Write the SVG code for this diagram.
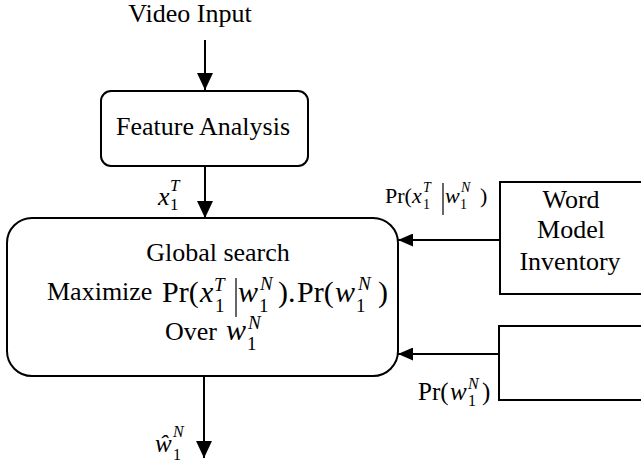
<svg xmlns="http://www.w3.org/2000/svg" width="641" height="462" viewBox="0 0 641 462" font-family="'Liberation Serif', 'Times New Roman', serif" font-size="26">
  <style>
    .box { fill: #fff; stroke: #000; stroke-width: 2; }
    .wire { fill: none; stroke: #000; stroke-width: 2; }
    .t { font-family: "Liberation Serif", "Times New Roman", serif; font-size: 26px; fill: #000; }
    .c { text-anchor: middle; }
    .i { font-style: italic; }
    .m { font-size: 30px; }
    .ms { font-size: 19px; }
    .l22 { font-size: 22px; }
    .s14 { font-size: 14px; }
    .l25 { font-size: 25px; }
    .s16 { font-size: 16px; }
    .s17 { font-size: 17px; }
    .bar { stroke: #000; stroke-width: 1.2; }
  </style>
  <defs>
    <!-- arrowheads for vertical and horizontal flow lines -->
    <marker id="ahv" viewBox="0 0 17 16" refX="17" refY="8" markerWidth="17" markerHeight="16" orient="auto" markerUnits="userSpaceOnUse">
      <path d="M0,0 L17,8 L0,16 Z" fill="#000"/>
    </marker>
    <marker id="ahh" viewBox="0 0 15 13" refX="15" refY="6.5" markerWidth="15" markerHeight="13" orient="auto" markerUnits="userSpaceOnUse">
      <path d="M0,0 L15,6.5 L0,13 Z" fill="#000"/>
    </marker>
  </defs>

  <!-- connectors -->
  <g id="connectors">
    <line class="wire" x1="205" y1="40" x2="205" y2="90" marker-end="url(#ahv)"/>
    <line class="wire" x1="205" y1="166" x2="205" y2="218" marker-end="url(#ahv)"/>
    <line class="wire" x1="500" y1="240" x2="398" y2="240" marker-end="url(#ahh)"/>
    <line class="wire" x1="499" y1="354" x2="398" y2="354" marker-end="url(#ahh)"/>
    <line class="wire" x1="204" y1="376" x2="204" y2="458" marker-end="url(#ahv)"/>
  </g>

  <!-- input label -->
  <g id="video-input">
    <text class="t c" x="190" y="22">Video Input</text>
  </g>

  <g id="feature-analysis">
    <rect class="box" x="101" y="91" width="207" height="75" rx="10"/>
    <text class="t c" x="203" y="135">Feature Analysis</text>
  </g>

  <!-- observation sequence label -->
  <g id="label-x">
    <text class="t"><tspan class="i" x="158" y="205">x</tspan><tspan class="s17 i" x="170" y="191">T</tspan><tspan class="s17" x="170" y="210">1</tspan></text>
  </g>

  <g id="global-search">
    <rect class="box" x="7" y="218" width="391" height="158" rx="25"/>
    <text class="t c" x="218" y="261">Global search</text>
    <text class="t" x="47" y="300">Maximize</text>
    <text class="t m"><tspan x="162" y="302">Pr(</tspan><tspan class="i" x="200" y="302">x</tspan><tspan class="ms i" x="214" y="291">T</tspan><tspan class="ms" x="215" y="312">1</tspan><tspan class="i" x="238" y="302">w</tspan><tspan class="ms i" x="260" y="290">N</tspan><tspan class="ms" x="259" y="312">1</tspan><tspan x="278" y="302">).</tspan><tspan x="297" y="302">Pr(</tspan><tspan class="i" x="335" y="302">w</tspan><tspan class="ms i" x="358" y="290">N</tspan><tspan class="ms" x="356" y="312">1</tspan><tspan x="378" y="302">)</tspan></text>
    <line class="bar" x1="236" y1="278" x2="236" y2="317"/>
    <text class="t" x="165" y="340">Over</text>
    <text class="t m"><tspan class="i" x="226" y="340">w</tspan><tspan class="ms i" x="248" y="329">N</tspan><tspan class="ms" x="247" y="350">1</tspan></text>
  </g>

  <!-- likelihood label -->
  <g id="label-likelihood">
    <text class="t l22"><tspan x="385" y="203">Pr(</tspan><tspan class="i" x="412" y="203">x</tspan><tspan class="s14 i" x="423" y="192">T</tspan><tspan class="s14" x="423" y="209">1</tspan><tspan class="i" x="445" y="203">w</tspan><tspan class="s14 i" x="461" y="192">N</tspan><tspan class="s14" x="460" y="209">1</tspan><tspan x="480" y="203">)</tspan></text>
    <line class="bar" x1="443" y1="183" x2="443" y2="215"/>
  </g>

  <g id="word-model-inventory">
    <rect class="box" x="500" y="182" width="150" height="112"/>
    <text class="t c" x="571" y="208">Word</text>
    <text class="t c" x="571" y="238">Model</text>
    <text class="t c" x="570" y="270">Inventory</text>
  </g>

  <g id="language-model">
    <rect class="box" x="499" y="326" width="151" height="74"/>
  </g>

  <!-- prior label -->
  <g id="label-prior">
    <text class="t l25"><tspan x="418" y="400">Pr(</tspan><tspan class="i" x="450" y="400">w</tspan><tspan class="s16 i" x="468" y="389">N</tspan><tspan class="s16" x="468" y="406">1</tspan><tspan x="482" y="400">)</tspan></text>
  </g>

  <!-- output label -->
  <g id="label-output">
    <text class="t l25"><tspan class="i" x="155" y="452">ŵ</tspan><tspan class="s16 i" x="173" y="437">N</tspan><tspan class="s16" x="173" y="460">1</tspan></text>
  </g>
</svg>
